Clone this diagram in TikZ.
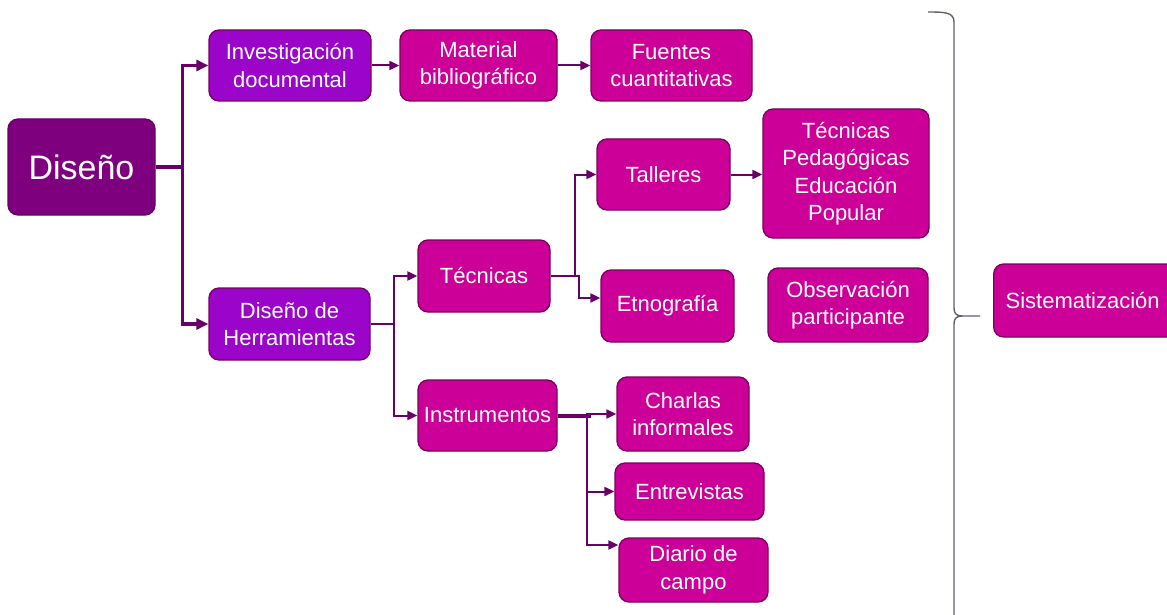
\documentclass[tikz,border=0pt]{standalone}
\usepackage{fontspec}
\setmainfont{Liberation Sans}
\usetikzlibrary{arrows.meta}
\definecolor{dpurple}{HTML}{7E007E}
\definecolor{violet}{HTML}{9A05C9}
\definecolor{magen}{HTML}{CC0099}
\definecolor{edgec}{HTML}{7A005E}
\definecolor{linec}{HTML}{680068}
\definecolor{bracec}{HTML}{5F6070}
\tikzset{
  box/.style={rounded corners=10pt, draw=edgec, line width=1.3pt, text=white, align=center, inner sep=0pt,
    font=\fontsize{22}{27.5}\selectfont},
  boxm/.style={box, fill=magen},
  boxv/.style={box, fill=violet},
  boxd/.style={box, fill=dpurple, draw=dpurple!80!black, font=\fontsize{34}{40}\selectfont},
  conn/.style={draw=linec, line width=2pt, -{Triangle[length=10pt,width=9pt]}},
  thickconn/.style={draw=linec, line width=3.5pt, -{Triangle[length=12pt,width=11pt]}},
  bracel/.style={draw=bracec, line width=1.4pt}
}
\begin{document}
\begin{tikzpicture}[x=1pt,y=-1pt]
\clip (0,0) rectangle (1167,615);
\fill[white] (0,0) rectangle (1167,615);
% nodes
\node[boxd, minimum width=147pt, minimum height=96pt] (dis) at (81.5,167) {Diseño};
\node[boxv, minimum width=162pt, minimum height=71pt] (inv) at (290,65.5) {Investigación\\documental};
\node[boxm, minimum width=157pt, minimum height=71pt] (mat) at (478.5,65.5) {Material\\bibliográfico};
\node[boxm, minimum width=161pt, minimum height=71pt] (fue) at (671.5,65.5) {Fuentes\\cuantitativas};
\node[boxv, minimum width=161pt, minimum height=72pt] (her) at (289.5,324) {Diseño de\\Herramientas};
\node[boxm, minimum width=132pt, minimum height=72pt] (tec) at (484,276) {Técnicas};
\node[boxm, minimum width=139pt, minimum height=71pt] (ins) at (487.5,415.5) {Instrumentos};
\node[boxm, minimum width=133pt, minimum height=71pt] (tal) at (663.5,174.5) {Talleres};
\node[boxm, minimum width=133pt, minimum height=72pt] (etn) at (667.5,306) {Etnografía};
\node[boxm, minimum width=166pt, minimum height=129pt] (ped) at (846,173.5) {Técnicas\\Pedagógicas\\Educación\\Popular};
\node[boxm, minimum width=160pt, minimum height=74pt] (obs) at (848,305) {Observación\\participante};
\node[boxm, minimum width=132pt, minimum height=74pt] (cha) at (683,414) {Charlas\\informales};
\node[boxm, minimum width=149pt, minimum height=57pt] (ent) at (689.5,491.5) {Entrevistas};
\node[boxm, minimum width=149pt, minimum height=64pt] (dia) at (693.5,570) {Diario de\\campo};
\node[boxm, anchor=west, minimum height=73pt, inner xsep=12pt, text width=176pt, align=left] (sis) at (993,300.5) {Sistematización};
% connectors
\draw[thickconn] (dis.east) -- ++(27,0) |- (inv.west);
\draw[thickconn] (dis.east) -- ++(27,0) |- (her.west);
\draw[conn] (inv.east) -- (mat.west);
\draw[conn] (mat.east) -- (fue.west);
\draw[conn] (her.east) -- ++(23,0) |- (tec.west);
\draw[conn] (her.east) -- ++(23,0) |- (ins.west);
\draw[conn] (tec.east) -- ++(24,0) |- (tal.west);
\draw[conn] (tec.east) -- ++(28,0) |- ([yshift=8pt]etn.west);
\draw[conn] (tal.east) -- (tal.east -| ped.west);
\draw[draw=linec, line width=4pt] (ins.east) -- ++(33,0);
\draw[conn] (ins.east) -- ++(29,0) |- (cha.west);
\draw[conn] (ins.east) -- ++(29,0) |- (ent.west);
\draw[conn] (ins.east) -- ++(29,0) |- ([yshift=25pt]dia.west);
% brace
\draw[bracel] (928,12) .. controls (944,12) and (954,12) .. (954,22) -- (954,308)
  .. controls (954,314) and (957,316) .. (962,316) -- (980,316);
\draw[bracel] (962,316) .. controls (957,316) and (954,318) .. (954,324) -- (954,620);
\end{tikzpicture}
\end{document}
